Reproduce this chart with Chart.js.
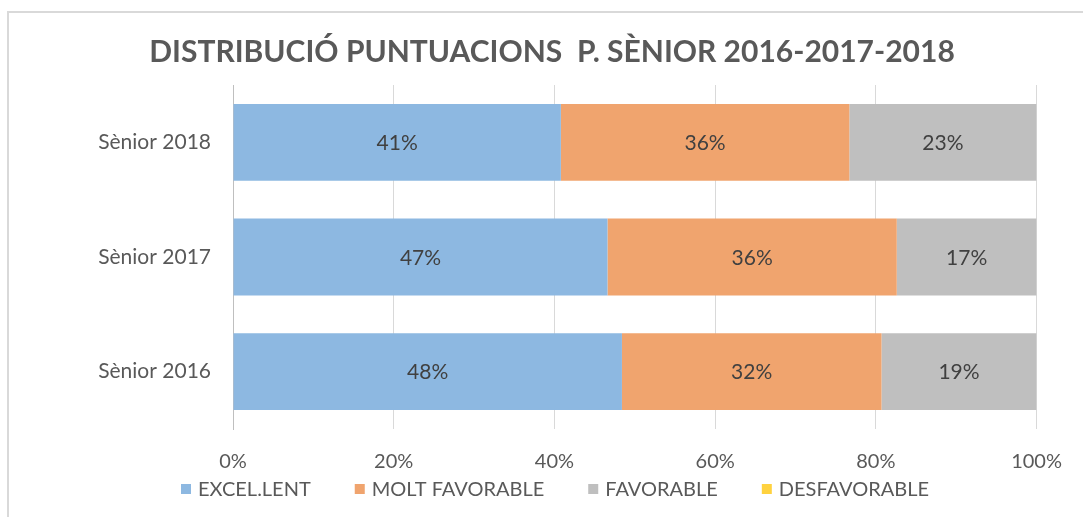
<!DOCTYPE html>
<html lang="ca">
<head>
  <meta charset="UTF-8">
  <title>Distribució puntuacions P. Sènior 2016-2017-2018</title>
  <script src="https://cdn.jsdelivr.net/npm/chart.js"></script>
  <style>
    html, body { margin:0; padding:0; background:#fff; overflow:hidden; }
    .wrap { position:relative; width:1083px; height:517px; }
    .frame { position:absolute; left:7px; top:11px; width:2000px; height:2000px; border:2px solid #d9d9d9; }
    canvas { position:absolute; left:0; top:0; }
  </style>
</head>
<body>
<div class="wrap">
  <div class="frame"></div>
  <canvas id="chart" width="1083" height="517"></canvas>
</div>
<script>
// categories (top to bottom) and series values (%)
const categories = ['Sènior 2018', 'Sènior 2017', 'Sènior 2016'];
const excellent = [40.8, 46.6, 48.4];
const veryFavourable = [35.9, 36.0, 32.3];
const favourable = [23.3, 17.4, 19.3];
const unfavourable = [0, 0, 0];
const seriesNames = ['EXCEL.LENT', 'MOLT FAVORABLE', 'FAVORABLE', 'DESFAVORABLE'];
const seriesColors = ['#8db8e1', '#f0a46e', '#bfbfbf', '#ffd23f'];
const xTicks = [0, 20, 40, 60, 80, 100];
const titleText = 'DISTRIBUCIÓ PUNTUACIONS  P. SÈNIOR 2016-2017-2018';

const FONT = "Lato, 'Open Sans', sans-serif";
const TEXT = '#595959';

// value labels centred inside each bar
const barLabels = {
  id: 'barLabels',
  afterDatasetsDraw(chart) {
    const ctx = chart.ctx;
    ctx.save();
    ctx.font = '21px ' + FONT;
    ctx.fillStyle = '#404040';
    ctx.textAlign = 'center';
    ctx.textBaseline = 'middle';
    chart.data.datasets.forEach((ds, i) => {
      chart.getDatasetMeta(i).data.forEach((bar, j) => {
        const v = ds.data[j];
        if (!v) return;
        const p = bar.getCenterPoint();
        ctx.fillText(Math.round(v) + '%', p.x, p.y + 1);
      });
    });
    ctx.restore();
  }
};

// title + legend drawn by hand so they sit where Excel put them
const decor = {
  id: 'decor',
  afterDraw(chart) {
    const ctx = chart.ctx;
    ctx.save();
    ctx.fillStyle = TEXT;
    ctx.textBaseline = 'middle';
    ctx.textAlign = 'center';
    ctx.font = 'bold 30px ' + FONT;
    ctx.fillText(titleText, 552, 52);

    // legend
    ctx.textAlign = 'left';
    ctx.font = '20px ' + FONT;
    const box = 10, gapText = 7, gapItem = 44;
    const items = chart.data.datasets.map(d => ({ text: d.label, color: d.backgroundColor, w: ctx.measureText(d.label).width }));
    const total = items.reduce((s, it) => s + box + gapText + it.w, 0) + gapItem * (items.length - 1);
    let x = 555 - total / 2;
    const y = 489;
    items.forEach(it => {
      ctx.fillStyle = it.color;
      ctx.fillRect(x, y - box / 2, box, box);
      ctx.fillStyle = TEXT;
      ctx.fillText(it.text, x + box + gapText, y + 1);
      x += box + gapText + it.w + gapItem;
    });
    ctx.restore();
  }
};

new Chart(document.getElementById('chart'), {
  type: 'bar',
  data: {
    labels: categories,
    datasets: [
      { label: seriesNames[0], data: excellent, backgroundColor: seriesColors[0] },
      { label: seriesNames[1], data: veryFavourable, backgroundColor: seriesColors[1] },
      { label: seriesNames[2], data: favourable, backgroundColor: seriesColors[2] },
      { label: seriesNames[3], data: unfavourable, backgroundColor: seriesColors[3] }
    ]
  },
  options: {
    indexAxis: 'y',
    responsive: false,
    animation: false,
    layout: { padding: { left: 0, right: 46, top: 85, bottom: 43 } },
    datasets: { bar: { categoryPercentage: 0.67, barPercentage: 1, borderWidth: 0 } },
    scales: {
      x: {
        stacked: true,
        min: 0, max: 100,
        afterBuildTicks(s) { s.ticks = xTicks.map(v => ({ value: v })); },
        afterFit(s) { s.height = 45; },
        grid: { color: '#d9d9d9', drawTicks: false },
        border: { display: false },
        ticks: { padding: 21, color: TEXT, font: { family: FONT, size: 20 }, callback: v => v + '%' }
      },
      y: {
        stacked: true,
        afterFit(s) { s.width = 233; },
        grid: { display: false, drawTicks: false },
        border: { color: '#bfbfbf', width: 1 },
        ticks: { padding: 22, color: TEXT, font: { family: FONT, size: 21 } }
      }
    },
    plugins: {
      title: { display: false },
      legend: { display: false },
      tooltip: { enabled: false }
    }
  },
  plugins: [barLabels, decor]
});
</script>
</body>
</html>
